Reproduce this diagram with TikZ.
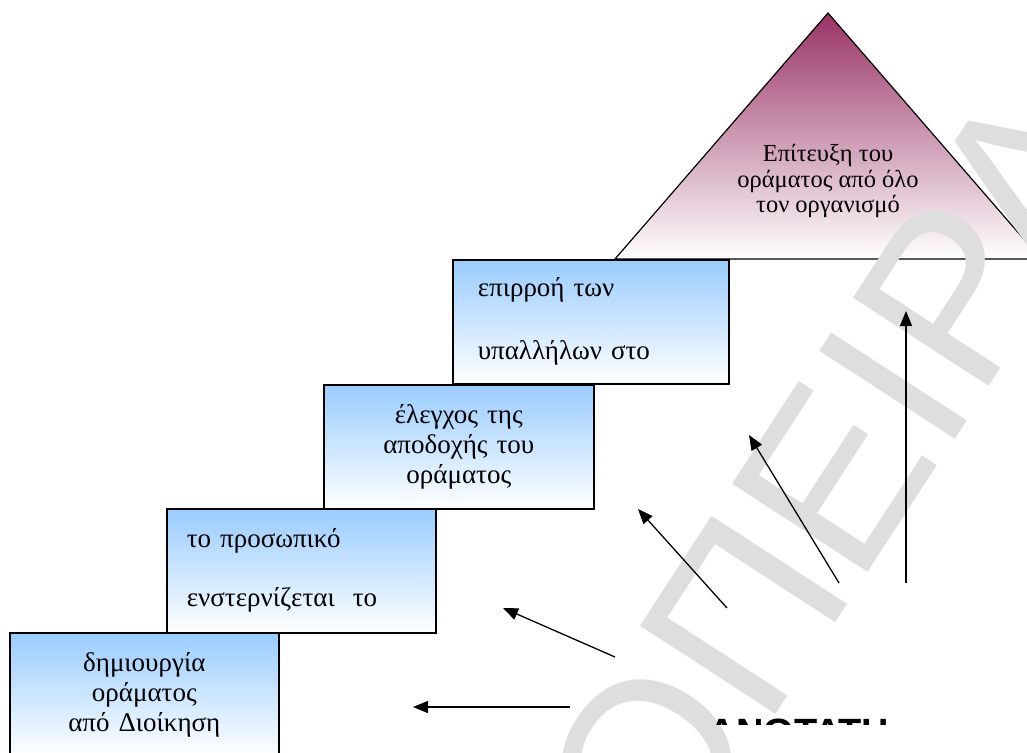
\documentclass[tikz,border=0pt]{standalone}
\usepackage{fontspec}
\setmainfont{Liberation Serif}
\newfontfamily\marksans{Liberation Sans}
\usetikzlibrary{arrows.meta,positioning}
\definecolor{stepblue}{RGB}{153,204,255}
\definecolor{goalplum}{RGB}{153,51,102}
\definecolor{markgray}{RGB}{222,222,222}
\tikzset{
  stepbox/.style={draw, line width=1.6pt, top color=stepblue, bottom color=white,
    minimum height=124pt, inner ysep=0pt, anchor=north west,
    font=\fontsize{27}{30}\selectfont},
  arr/.style={-{Triangle[length=15pt,width=12pt]}, line width=1.3pt},
}

\begin{document}
\begin{tikzpicture}[x=1pt,y=-1pt]
  \useasboundingbox (0,0) rectangle (1027,752);
  \clip (0,0) rectangle (1027,752);

  % goal triangle
  \draw[top color=goalplum, bottom color=white, line width=1.2pt]
    (615,259) -- (828,13) -- (1041,259) -- cycle;
  \node[font=\fontsize{24.5}{25.5}\selectfont, align=center] (goal) at (828,181)
    {Επίτευξη του\\οράματος από όλο\\τον οργανισμό};

  % the four steps
  \node[stepbox, text width=229pt, inner xsep=20pt, align=left] (adopt) at (166,508)
    {το προσωπικό\\[29pt]ενστερνίζεται\ \ το};
  \node[stepbox, text width=249pt, inner xsep=10pt, align=center] (create) at (9,632)
    {δημιουργία\\οράματος\\από Διοίκηση};
  \node[stepbox, text width=250pt, inner xsep=10pt, align=center] (check) at (323,384)
    {έλεγχος της\\αποδοχής του\\οράματος};
  \node[stepbox, text width=226pt, inner xsep=25pt, align=left] (influence) at (452,259)
    {επιρροή των\\[33pt]υπαλλήλων στο};

  % watermark
  \node[text=markgray, font=\marksans\fontsize{235}{235}\selectfont,
    rotate=57, inner sep=0pt] (mark) at (835,475) {ΟΠΕΙΡΑ};
  \begin{scope}
    \clip (690,716) rectangle (910,724);
    \node[font=\marksans\bfseries\fontsize{38}{38}\selectfont, anchor=north,
      inner sep=0pt] (school) at (799,719) {ΑΝΩΤΑΤΗ};
  \end{scope}

  % arrows
  \coordinate (s1) at (570,707);  \coordinate (t1) at (413,707);
  \coordinate (s2) at (615,657);  \coordinate (t2) at (503,608);
  \coordinate (s3) at (727,608);  \coordinate (t3) at (638,509);
  \coordinate (s4) at (839,583);  \coordinate (t4) at (749,435);
  \coordinate (s5) at (906,583);  \coordinate (t5) at (906,311);
  \draw[arr] (s1) -- (t1);
  \draw[arr] (s2) -- (t2);
  \draw[arr] (s3) -- (t3);
  \draw[arr] (s4) -- (t4);
  \draw[arr] (s5) -- (t5);
\end{tikzpicture}
\end{document}
